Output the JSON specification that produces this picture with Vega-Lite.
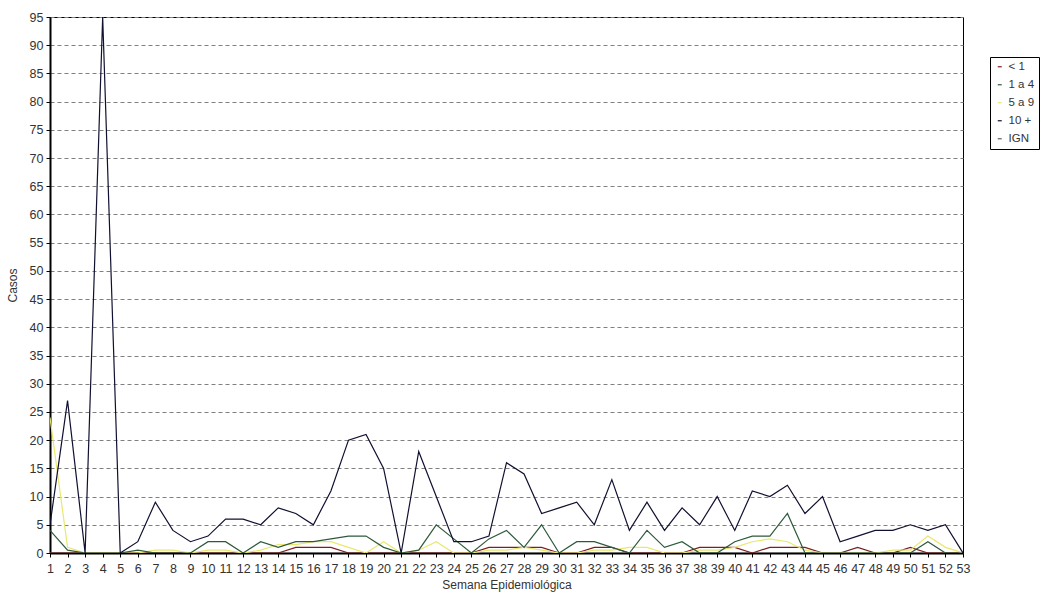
{
  "$schema": "https://vega.github.io/schema/vega-lite/v6.json",
  "width": 913,
  "height": 536,
  "padding": {"left": 50, "top": 17, "right": 79, "bottom": 44},
  "autosize": {"type": "none"},
  "background": "white",
  "config": {
    "font": "Liberation Sans",
    "view": {"stroke": "#000000", "strokeWidth": 1},
    "axis": {"labelFont": "Liberation Sans", "titleFont": "Liberation Sans", "labelColor": "#333333", "titleColor": "#333333", "titleFontWeight": "normal"}
  },
  "data": {
    "values": [
      {"w": 1, "< 1": 0, "1 a 4": 4, "5 a 9": 24, "10 +": 5, "IGN": 0},
      {"w": 2, "< 1": 0, "1 a 4": 0.5, "5 a 9": 1, "10 +": 27, "IGN": 0},
      {"w": 3, "< 1": 0, "1 a 4": 0, "5 a 9": 0, "10 +": 0, "IGN": 0},
      {"w": 4, "< 1": 0, "1 a 4": 0, "5 a 9": 0, "10 +": 95, "IGN": 0},
      {"w": 5, "< 1": 0, "1 a 4": 0, "5 a 9": 0, "10 +": 0, "IGN": 0},
      {"w": 6, "< 1": 0, "1 a 4": 0.5, "5 a 9": 0, "10 +": 2, "IGN": 0},
      {"w": 7, "< 1": 0, "1 a 4": 0, "5 a 9": 0.5, "10 +": 9, "IGN": 0},
      {"w": 8, "< 1": 0, "1 a 4": 0, "5 a 9": 0.5, "10 +": 4, "IGN": 0},
      {"w": 9, "< 1": 0, "1 a 4": 0, "5 a 9": 0, "10 +": 2, "IGN": 0},
      {"w": 10, "< 1": 0, "1 a 4": 2, "5 a 9": 0.5, "10 +": 3, "IGN": 0},
      {"w": 11, "< 1": 0, "1 a 4": 2, "5 a 9": 0.5, "10 +": 6, "IGN": 0},
      {"w": 12, "< 1": 0, "1 a 4": 0, "5 a 9": 0, "10 +": 6, "IGN": 0},
      {"w": 13, "< 1": 0, "1 a 4": 2, "5 a 9": 0.5, "10 +": 5, "IGN": 0},
      {"w": 14, "< 1": 0, "1 a 4": 1, "5 a 9": 1.5, "10 +": 8, "IGN": 0},
      {"w": 15, "< 1": 1, "1 a 4": 2, "5 a 9": 1.5, "10 +": 7, "IGN": 0},
      {"w": 16, "< 1": 1, "1 a 4": 2, "5 a 9": 2, "10 +": 5, "IGN": 0},
      {"w": 17, "< 1": 1, "1 a 4": 2.5, "5 a 9": 2, "10 +": 11, "IGN": 0},
      {"w": 18, "< 1": 0, "1 a 4": 3, "5 a 9": 1, "10 +": 20, "IGN": 0},
      {"w": 19, "< 1": 0, "1 a 4": 3, "5 a 9": 0, "10 +": 21, "IGN": 0},
      {"w": 20, "< 1": 0, "1 a 4": 1, "5 a 9": 2, "10 +": 15, "IGN": 0},
      {"w": 21, "< 1": 0, "1 a 4": 0, "5 a 9": 0, "10 +": 0, "IGN": 0},
      {"w": 22, "< 1": 0, "1 a 4": 0.5, "5 a 9": 0.5, "10 +": 18, "IGN": 0},
      {"w": 23, "< 1": 0, "1 a 4": 5, "5 a 9": 2, "10 +": 10, "IGN": 0},
      {"w": 24, "< 1": 0, "1 a 4": 2.5, "5 a 9": 0, "10 +": 2, "IGN": 0},
      {"w": 25, "< 1": 0, "1 a 4": 0, "5 a 9": 0, "10 +": 2, "IGN": 0},
      {"w": 26, "< 1": 1, "1 a 4": 2.5, "5 a 9": 0.5, "10 +": 3, "IGN": 0},
      {"w": 27, "< 1": 1, "1 a 4": 4, "5 a 9": 0.5, "10 +": 16, "IGN": 0},
      {"w": 28, "< 1": 1, "1 a 4": 1, "5 a 9": 1, "10 +": 14, "IGN": 0},
      {"w": 29, "< 1": 1, "1 a 4": 5, "5 a 9": 0.5, "10 +": 7, "IGN": 0},
      {"w": 30, "< 1": 0, "1 a 4": 0, "5 a 9": 0, "10 +": 8, "IGN": 0},
      {"w": 31, "< 1": 0, "1 a 4": 2, "5 a 9": 0, "10 +": 9, "IGN": 0},
      {"w": 32, "< 1": 1, "1 a 4": 2, "5 a 9": 0.5, "10 +": 5, "IGN": 0},
      {"w": 33, "< 1": 1, "1 a 4": 1, "5 a 9": 0.5, "10 +": 13, "IGN": 0},
      {"w": 34, "< 1": 0, "1 a 4": 0, "5 a 9": 1, "10 +": 4, "IGN": 0},
      {"w": 35, "< 1": 0, "1 a 4": 4, "5 a 9": 1, "10 +": 9, "IGN": 0},
      {"w": 36, "< 1": 0, "1 a 4": 1, "5 a 9": 0, "10 +": 4, "IGN": 0},
      {"w": 37, "< 1": 0, "1 a 4": 2, "5 a 9": 0, "10 +": 8, "IGN": 0},
      {"w": 38, "< 1": 1, "1 a 4": 0, "5 a 9": 0.5, "10 +": 5, "IGN": 0},
      {"w": 39, "< 1": 1, "1 a 4": 0, "5 a 9": 0.5, "10 +": 10, "IGN": 0},
      {"w": 40, "< 1": 1, "1 a 4": 2, "5 a 9": 1, "10 +": 4, "IGN": 0},
      {"w": 41, "< 1": 0, "1 a 4": 3, "5 a 9": 2, "10 +": 11, "IGN": 0},
      {"w": 42, "< 1": 1, "1 a 4": 3, "5 a 9": 2.5, "10 +": 10, "IGN": 0},
      {"w": 43, "< 1": 1, "1 a 4": 7, "5 a 9": 2, "10 +": 12, "IGN": 0},
      {"w": 44, "< 1": 1, "1 a 4": 0, "5 a 9": 0.5, "10 +": 7, "IGN": 0},
      {"w": 45, "< 1": 0, "1 a 4": 0, "5 a 9": 0, "10 +": 10, "IGN": 0},
      {"w": 46, "< 1": 0, "1 a 4": 0, "5 a 9": 0, "10 +": 2, "IGN": 0},
      {"w": 47, "< 1": 1, "1 a 4": 0, "5 a 9": 0, "10 +": 3, "IGN": 0},
      {"w": 48, "< 1": 0, "1 a 4": 0, "5 a 9": 0, "10 +": 4, "IGN": 0},
      {"w": 49, "< 1": 0, "1 a 4": 0, "5 a 9": 0.5, "10 +": 4, "IGN": 0},
      {"w": 50, "< 1": 1, "1 a 4": 0, "5 a 9": 0.5, "10 +": 5, "IGN": 0},
      {"w": 51, "< 1": 0, "1 a 4": 2, "5 a 9": 3, "10 +": 4, "IGN": 0},
      {"w": 52, "< 1": 0, "1 a 4": 0, "5 a 9": 1, "10 +": 5, "IGN": 0},
      {"w": 53, "< 1": 0, "1 a 4": 0, "5 a 9": 0, "10 +": 0, "IGN": 0}
    ]
  },
  "transform": [
    {"fold": ["IGN", "< 1", "5 a 9", "1 a 4", "10 +"], "as": ["serie", "casos"]}
  ],
  "mark": {"type": "line", "strokeWidth": 1.2, "clip": true},
  "encoding": {
    "x": {
      "field": "w", "type": "quantitative",
      "scale": {"domain": [1, 53], "nice": false, "zero": false},
      "axis": {
        "title": "Semana Epidemiológica",
        "titleFontSize": 12, "titlePadding": 5,
        "values": [1,2,3,4,5,6,7,8,9,10,11,12,13,14,15,16,17,18,19,20,21,22,23,24,25,26,27,28,29,30,31,32,33,34,35,36,37,38,39,40,41,42,43,44,45,46,47,48,49,50,51,52,53],
        "labelFontSize": 12.5, "labelPadding": 5, "labelOverlap": false, "labelFlush": false,
        "tickSize": 4, "tickColor": "#000000",
        "domainColor": "#000000", "domainWidth": 2,
        "grid": false
      }
    },
    "y": {
      "field": "casos", "type": "quantitative",
      "scale": {"domain": [0, 95], "nice": false},
      "axis": {
        "title": "Casos",
        "titleFontSize": 12, "titlePadding": 10,
        "values": [0,5,10,15,20,25,30,35,40,45,50,55,60,65,70,75,80,85,90,95],
        "labelFontSize": 12.5, "labelPadding": 3,
        "tickSize": 4, "tickColor": "#000000",
        "domainColor": "#000000", "domainWidth": 2,
        "grid": true, "gridColor": "#808080", "gridDash": [4, 3], "gridWidth": 1
      }
    },
    "color": {
      "field": "serie", "type": "nominal",
      "scale": {
        "domain": ["< 1", "1 a 4", "5 a 9", "10 +", "IGN"],
        "range": ["#7a2020", "#2e5a3a", "#e8e870", "#101030", "#606060"]
      },
      "legend": {
        "title": null,
        "orient": "none", "legendX": 940, "legendY": 40,
        "symbolType": "stroke", "symbolSize": 16, "symbolStrokeWidth": 1.2,
        "labelFontSize": 11.5, "labelColor": "#333333", "labelOffset": 3,
        "rowPadding": 5,
        "strokeColor": "#000000", "fillColor": "#ffffff", "padding": 4,
        "offset": 0
      }
    },
    "order": {"field": "serie"}
  }
}
